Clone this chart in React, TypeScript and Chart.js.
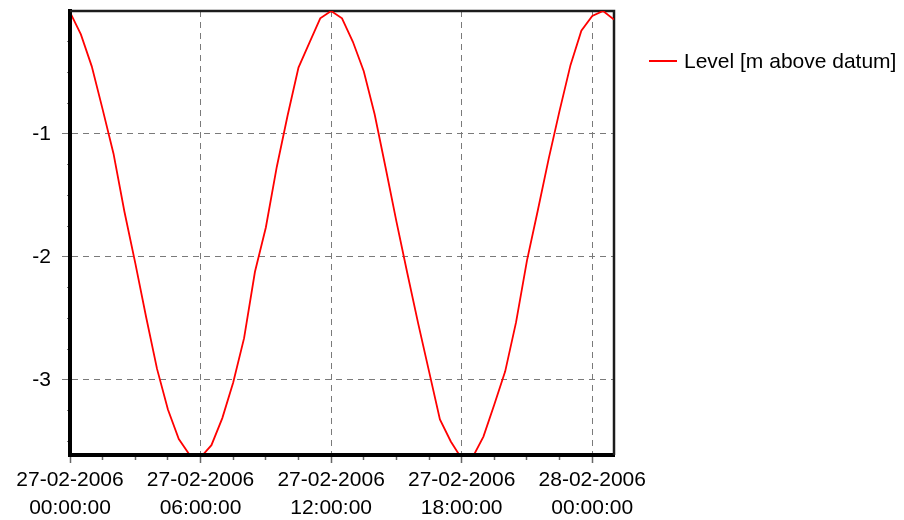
import { useEffect, useRef } from 'react';
import { Chart, registerables } from 'chart.js';

Chart.register(...registerables);

// Time since 27-02-2006 00:00:00, in hours
const hours = [
  0, 0.5, 1, 1.5, 2, 2.5, 3, 3.5, 4, 4.5, 5, 5.5, 6, 6.5, 7, 7.5, 8, 8.5, 9, 9.5,
  10, 10.5, 11, 11.5, 12, 12.5, 13, 13.5, 14, 14.5, 15, 15.5, 16, 16.5, 17, 17.5,
  18, 18.5, 19, 19.5, 20, 20.5, 21, 21.5, 22, 22.5, 23, 23.5, 24, 24.5, 25,
];

// Level [m above datum]
const levels = [
  -0.01, -0.19, -0.45, -0.8, -1.16, -1.63, -2.05, -2.49, -2.91, -3.24, -3.48, -3.61, -3.63,
  -3.53, -3.31, -3.02, -2.66, -2.12, -1.76, -1.27, -0.85, -0.46, -0.26, -0.06, 0.0, -0.06,
  -0.25, -0.49, -0.84, -1.27, -1.71, -2.13, -2.54, -2.93, -3.32, -3.5, -3.64, -3.63, -3.46,
  -3.2, -2.93, -2.53, -2.03, -1.62, -1.2, -0.81, -0.44, -0.16, -0.04, 0.0, -0.07,
];

const seriesLabel = 'Level [m above datum]';
const seriesColor = '#ff0000';

const xMajorHours = [0, 6, 12, 18, 24];
const xTickDates = ['27-02-2006', '27-02-2006', '27-02-2006', '27-02-2006', '28-02-2006'];
const xTickTimes = ['00:00:00', '06:00:00', '12:00:00', '18:00:00', '00:00:00'];
const xMinorStep = 1.5;
const xMin = 0;
const xMax = 25;

const yMajorValues = [-3, -2, -1];
const yMinorStep = 0.25;
const yMin = -3.61;
const yMax = 0;

const FONT = '"Liberation Sans", Arial, sans-serif';

const near = (a: number, b: number) => Math.abs(a - b) < 1e-6;

export default function App() {
  const ref = useRef<HTMLCanvasElement>(null);

  useEffect(() => {
    if (!ref.current) return;

    const xTickValues: number[] = [];
    for (let v = xMin; v <= xMajorHours[xMajorHours.length - 1] + 1e-6; v += xMinorStep) {
      xTickValues.push(Math.round(v * 100) / 100);
    }
    const yTickValues: number[] = [];
    for (let v = -3.5; v < yMax - 1e-6; v += yMinorStep) {
      yTickValues.push(Math.round(v * 100) / 100);
    }
    const isXMajor = (v: number) => xMajorHours.some((m) => near(m, v));
    const isYMajor = (v: number) => yMajorValues.some((m) => near(m, v));

    const framePlugin = {
      id: 'frame',
      beforeDatasetsDraw(chart: any) {
        const { ctx, chartArea: a } = chart;
        ctx.save();
        ctx.strokeStyle = '#1c1c1c';
        ctx.lineWidth = 2.5;
        ctx.setLineDash([]);
        ctx.beginPath();
        ctx.moveTo(a.left, a.top);
        ctx.lineTo(a.right, a.top);
        ctx.lineTo(a.right, a.bottom);
        ctx.stroke();
        ctx.restore();
      },
    };

    const sideLegend = {
      id: 'sideLegend',
      afterDraw(chart: any) {
        const { ctx, chartArea: a } = chart;
        const ds = chart.data.datasets[0];
        const y = a.top + 50;
        ctx.save();
        ctx.strokeStyle = ds.borderColor;
        ctx.lineWidth = 2;
        ctx.beginPath();
        ctx.moveTo(a.right + 35, y);
        ctx.lineTo(a.right + 63, y);
        ctx.stroke();
        ctx.fillStyle = '#000';
        ctx.font = `21px ${FONT}`;
        ctx.textAlign = 'left';
        ctx.textBaseline = 'middle';
        ctx.fillText(ds.label, a.right + 70, y + 1);
        ctx.restore();
      },
    };

    const chart = new Chart(ref.current, {
      type: 'line',
      data: {
        datasets: [
          {
            label: seriesLabel,
            data: hours.map((h, i) => ({ x: h, y: levels[i] })),
            borderColor: seriesColor,
            backgroundColor: seriesColor,
            borderWidth: 1.8,
            pointRadius: 0,
            tension: 0,
            fill: false,
            clip: { left: -2, top: 0, right: 0, bottom: -2 } as any,
          },
        ],
      },
      options: {
        responsive: false,
        animation: false,
        events: [],
        layout: { padding: { top: 11, right: 290, left: 0, bottom: 0 } },
        plugins: {
          legend: { display: false },
          tooltip: { enabled: false },
        },
        scales: {
          x: {
            type: 'linear',
            min: xMin,
            max: xMax,
            afterBuildTicks: (axis: any) => {
              axis.ticks = xTickValues.map((v) => ({ value: v }));
            },
            afterFit: (axis: any) => {
              axis.height = 65;
              axis.paddingLeft = 0;
              axis.paddingRight = 0;
            },
            ticks: {
              autoSkip: false,
              maxRotation: 0,
              minRotation: 0,
              padding: 3,
              color: '#000',
              font: { family: FONT, size: 21, lineHeight: 1.33 },
              callback: (v: any) => {
                const i = xMajorHours.findIndex((m) => near(m, Number(v)));
                return i >= 0 ? [xTickDates[i], xTickTimes[i]] : '';
              },
            },
            grid: {
              color: (c: any) => (isXMajor(c.tick.value) ? '#7a7a7a' : 'rgba(0,0,0,0)'),
              lineWidth: 1,
              tickLength: 8,
              tickColor: '#666',
              tickWidth: 1.5,
              tickBorderDash: (c: any) => (isXMajor(c.tick.value) ? [] : [3, 30]),
            } as any,
            border: { display: true, color: '#000', width: 4, dash: [6, 5] },
          },
          y: {
            type: 'linear',
            min: yMin,
            max: yMax,
            afterBuildTicks: (axis: any) => {
              axis.ticks = yTickValues.map((v) => ({ value: v }));
            },
            afterFit: (axis: any) => {
              axis.width = 70;
              axis.paddingTop = 0;
              axis.paddingBottom = 0;
            },
            ticks: {
              autoSkip: false,
              padding: 11,
              color: '#000',
              font: { family: FONT, size: 21 },
              callback: (v: any) => (isYMajor(Number(v)) ? String(Math.round(Number(v))) : ''),
            },
            grid: {
              color: (c: any) => (isYMajor(c.tick.value) ? '#7a7a7a' : 'rgba(0,0,0,0)'),
              lineWidth: 1,
              tickLength: 8,
              tickColor: '#7a7a7a',
              tickBorderDash: (c: any) => (isYMajor(c.tick.value) ? [] : [0, 5, 3, 30]),
            } as any,
            border: { display: true, color: '#000', width: 4, dash: [6, 5] },
          },
        },
      },
      plugins: [framePlugin, sideLegend],
    });

    return () => chart.destroy();
  }, []);

  return (
    <div style={{ position: 'absolute', left: 0, top: 0, width: 904, height: 520, background: '#fff' }}>
      <canvas ref={ref} width={904} height={520} style={{ display: 'block', width: 904, height: 520 }} />
    </div>
  );
}
